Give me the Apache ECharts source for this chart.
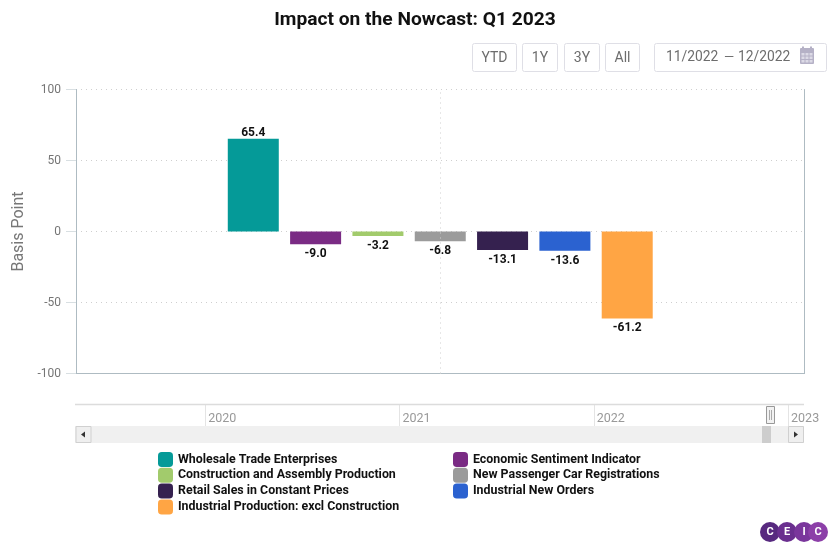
<!DOCTYPE html>
<html><head><meta charset="utf-8">
<style>html,body{margin:0;padding:0;background:#fff}#c{width:834px;height:547px}</style>
<script src="https://cdn.jsdelivr.net/npm/echarts@6/dist/echarts.min.js"></script>
</head><body><div id="c"></div>
<script>
const seriesNames = ['Wholesale Trade Enterprises','Economic Sentiment Indicator','Construction and Assembly Production','New Passenger Car Registrations','Retail Sales in Constant Prices','Industrial New Orders','Industrial Production: excl Construction'];
const seriesValues = [65.4,-9.0,-3.2,-6.8,-13.1,-13.6,-61.2];
const seriesColors = ['#059a98','#7a2b84','#a2cb6c','#9b9b9b','#35214f','#2b62d0','#ffa544'];
const categories = ['12/2022'];
const navYears = [2020,2021,2022,2023];
const buttons = ['YTD','1Y','3Y','All'];
const F='Roboto';
const chart = echarts.init(document.getElementById('c'),null,{renderer:'canvas'});
const btnGeom=[[472.5,43.5,44,28],[522.5,43.5,35,28],[564.5,43.5,35,28],[605.5,43.5,34,28]];
const graphic=[];
const rect=(x,y,w,h,fill,stroke,r,z)=>graphic.push({type:'rect',silent:true,z:z||10,shape:{x,y,width:w,height:h,r:r||0},style:{fill:fill||'none',stroke:stroke||null,lineWidth:1}});
const txt=(x,y,t,fill,size,weight,align)=>graphic.push({type:'text',silent:true,z:12,style:{x,y,text:t,fill,font:(weight||'normal')+' '+size+'px '+F,textAlign:align||'center',textVerticalAlign:'middle'}});
buttons.forEach((b,i)=>{const g=btnGeom[i];rect(g[0],g[1],g[2],g[3],'#fff','#dfdfe6',2);txt(g[0]+g[2]/2,g[1]+g[3]/2+.5,b,'#6d6d6d',14);});
rect(654.5,43.5,172,28,'#fff','#dfdfe6',2);
txt(666,58,'11/2022','#6d6d6d',13.8,'normal','left');
txt(724,58,'—','#6d6d6d',13,'normal','left');
txt(738,58,'12/2022','#6d6d6d',13.8,'normal','left');
// calendar icon
rect(800,48,14,16,'#b5b1c6',null,1);
rect(802,46.5,2,3,'#b5b1c6');rect(810,46.5,2,3,'#b5b1c6');
for(let r=0;r<3;r++)for(let c=0;c<3;c++)rect(801.5+c*4,53+r*3.5,3,2.5,'#dcdae6',null,0,11);
// navigator top line
graphic.push({type:'line',silent:true,z:6,shape:{x1:75,y1:404.5,x2:804,y2:404.5},style:{stroke:'#dcdcdc',lineWidth:1.5}});
// scrollbar
rect(75,426,729,17,'#f0f0f0',null,0,5);
rect(76,426.5,15,16,'#efefef','#d0d0d0');
rect(788.5,426.5,15,16,'#efefef','#d0d0d0');
graphic.push({type:'polygon',silent:true,z:12,shape:{points:[[81,434.5],[85,431.5],[85,437.5]]},style:{fill:'#333'}});
graphic.push({type:'polygon',silent:true,z:12,shape:{points:[[798,434.5],[794,431.5],[794,437.5]]},style:{fill:'#333'}});
rect(762,426,9,17,'#cdcdcd',null,0,6);
// navigator handle
rect(766.5,406.5,8,17,'#f2f2f2','#999',0,12);
graphic.push({type:'line',silent:true,z:13,shape:{x1:769.5,y1:410,x2:769.5,y2:420},style:{stroke:'#aaa'}});
graphic.push({type:'line',silent:true,z:13,shape:{x1:771.5,y1:410,x2:771.5,y2:420},style:{stroke:'#aaa'}});
// logo
const logo=[[770,'C','#57297f'],[787,'E','#6a2f8f'],[804,'I','#7a369c'],[818,'C','#8c3fa8']];
logo.forEach(l=>{graphic.push({type:'circle',silent:true,z:10,shape:{cx:l[0],cy:532,r:10},style:{fill:l[2]}});
txt(l[0],532.5,l[1],'#ffffff',11,'bold');});

const legendText={color:'#111',fontFamily:F,fontWeight:'bold',fontSize:12.4};
const legendBase={orient:'vertical',padding:0,itemWidth:15,itemHeight:15,itemGap:0.8,icon:'roundRect',textStyle:legendText,selectedMode:false};
const axisCol='#aebbc2';
const dots={type:[1,4],color:'#cfcfcf',width:1};
chart.setOption({
 animation:false,
 backgroundColor:'#fff',
 title:{text:'Impact on the Nowcast: Q1 2023',left:410,top:6,textAlign:'center',textStyle:{fontFamily:F,fontWeight:'bold',fontSize:19.2,color:'#111'}},
 legend:[
  Object.assign({left:158,top:452,data:seriesNames.filter((_,i)=>i%2===0)},legendBase),
  Object.assign({left:453,top:452,data:seriesNames.filter((_,i)=>i%2===1)},legendBase)
 ],
 grid:[
  {left:76,right:29.5,top:89.5,height:284,show:false},
  {left:75,right:30,top:404,height:22,show:false}
 ],
 xAxis:[
  {type:'category',gridIndex:0,data:categories,axisLabel:{show:false},axisTick:{show:false},axisLine:{show:true,onZero:false,lineStyle:{color:axisCol}},splitLine:{show:false}},
  {type:'value',gridIndex:1,min:2019.33,max:2023.082,position:'bottom',
   axisLine:{show:false},
   axisTick:{show:false,customValues:navYears},
   axisLabel:{customValues:navYears,inside:true,formatter:v=>String(v),color:'#999',fontFamily:F,fontSize:12.5,align:'left',margin:1,padding:[0,0,0,3]},
   splitLine:{show:true,lineStyle:{color:'#e4e4e4',width:1}}}
 ],
 yAxis:[
  {type:'value',gridIndex:0,min:-100,max:100,interval:50,name:'Basis Point',nameLocation:'middle',nameGap:49,nameTextStyle:{color:'#777',fontFamily:F,fontSize:16},
   axisLine:{show:true,onZero:false,lineStyle:{color:axisCol}},
   axisTick:{show:true,length:10,lineStyle:{color:'#d8dfe2'}},
   axisLabel:{color:'#757575',fontFamily:F,fontSize:12,margin:15},
   splitLine:{show:true,lineStyle:dots}},
  {type:'value',gridIndex:1,min:0,max:1,show:false},
  {type:'value',gridIndex:0,min:-100,max:100,interval:50,position:'right',axisLabel:{show:false},axisTick:{show:false},splitLine:{show:false},axisLine:{show:true,onZero:false,lineStyle:{color:axisCol}}}
 ],
 series:seriesNames.map((n,i)=>({
  type:'bar',name:n,xAxisIndex:0,yAxisIndex:0,data:[seriesValues[i]],barWidth:51,barGap:'22.2%',
  itemStyle:{color:seriesColors[i]},
  label:{show:true,position:seriesValues[i]<0?'bottom':'top',distance:seriesValues[i]<0?4:0,formatter:p=>p.value.toFixed(1),color:'#111',fontFamily:F,fontWeight:'bold',fontSize:12},
  markLine:i===3?{silent:true,symbol:'none',label:{show:false},lineStyle:dots,data:[{xAxis:0}]}:undefined
 })).concat([{type:'line',xAxisIndex:1,yAxisIndex:1,data:[],silent:true}]),
 graphic
});
</script></body></html>
